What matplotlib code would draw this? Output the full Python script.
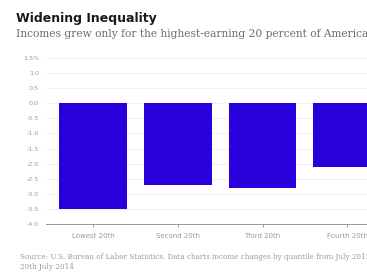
import numpy as np
import matplotlib.pyplot as plt

# income change by quintile, percent
quintiles = ['Lowest 20th', 'Second 20th', 'Third 20th', 'Fourth 20th', 'Highest 20th']
change = [-3.5, -2.7, -2.8, -2.1, 1.3]
yticks = [1.5, 1.0, 0.5, 0.0, -0.5, -1.0, -1.5, -2.0, -2.5, -3.0, -3.5, -4.0]
ylabels = ['1.5%', '1.0', '0.5', '0.0', '-0.5', '-1.0', '-1.5', '-2.0', '-2.5', '-3.0', '-3.5', '-4.0']

bar_color = '#2a00dc'
grey = '#9a9a9a'

fig = plt.figure(figsize=(3.67, 2.73), dpi=100)
fig.patch.set_facecolor('white')

# axes runs past the right edge, like the cropped original
ax = fig.add_axes([46/367, 49/273, 433/367, 166/273])
x = np.arange(len(quintiles))
ax.bar(x, change, width=0.8, color=bar_color, zorder=2)

ax.set_xlim(-0.555, 4.555)
ax.set_ylim(-4.0, 1.5)
ax.set_yticks(yticks)
ax.set_yticklabels(ylabels, fontsize=4.6, color=grey)
ax.set_xticks(x)
ax.set_xticklabels(quintiles, fontsize=5, color=grey)
ax.tick_params(axis='y', length=0, pad=5)
ax.tick_params(axis='x', length=2.5, color='#888888', width=0.6, pad=4)
ax.grid(axis='y', color='#ececec', linewidth=0.6, zorder=0)
for s in ['top', 'right', 'left']:
    ax.spines[s].set_visible(False)
ax.spines['bottom'].set_color('#888888')
ax.spines['bottom'].set_linewidth(0.6)
ax.spines['bottom'].set_bounds(-0.555, 4.555)

fig.text(16/367, 1 - 22/273, 'Widening Inequality', fontsize=9, fontweight='bold',
         color='#1a1a1a', family='DejaVu Sans')
fig.text(16/367, 1 - 37/273, 'Incomes grew only for the highest-earning 20 percent of Americans',
         fontsize=7.7, color='#6e6e6e', family='DejaVu Serif')
fig.text(20/367, 1 - 259/273,
         'Source: U.S. Bureau of Labor Statistics. Data charts income changes by quantile from July 2012 to July 2014.',
         fontsize=5.2, color=grey, family='DejaVu Serif')
fig.text(20/367, 1 - 269/273, '20th July 2014', fontsize=5.2, color=grey, family='DejaVu Serif')

fig.savefig('out.png', dpi=100, facecolor='white')
